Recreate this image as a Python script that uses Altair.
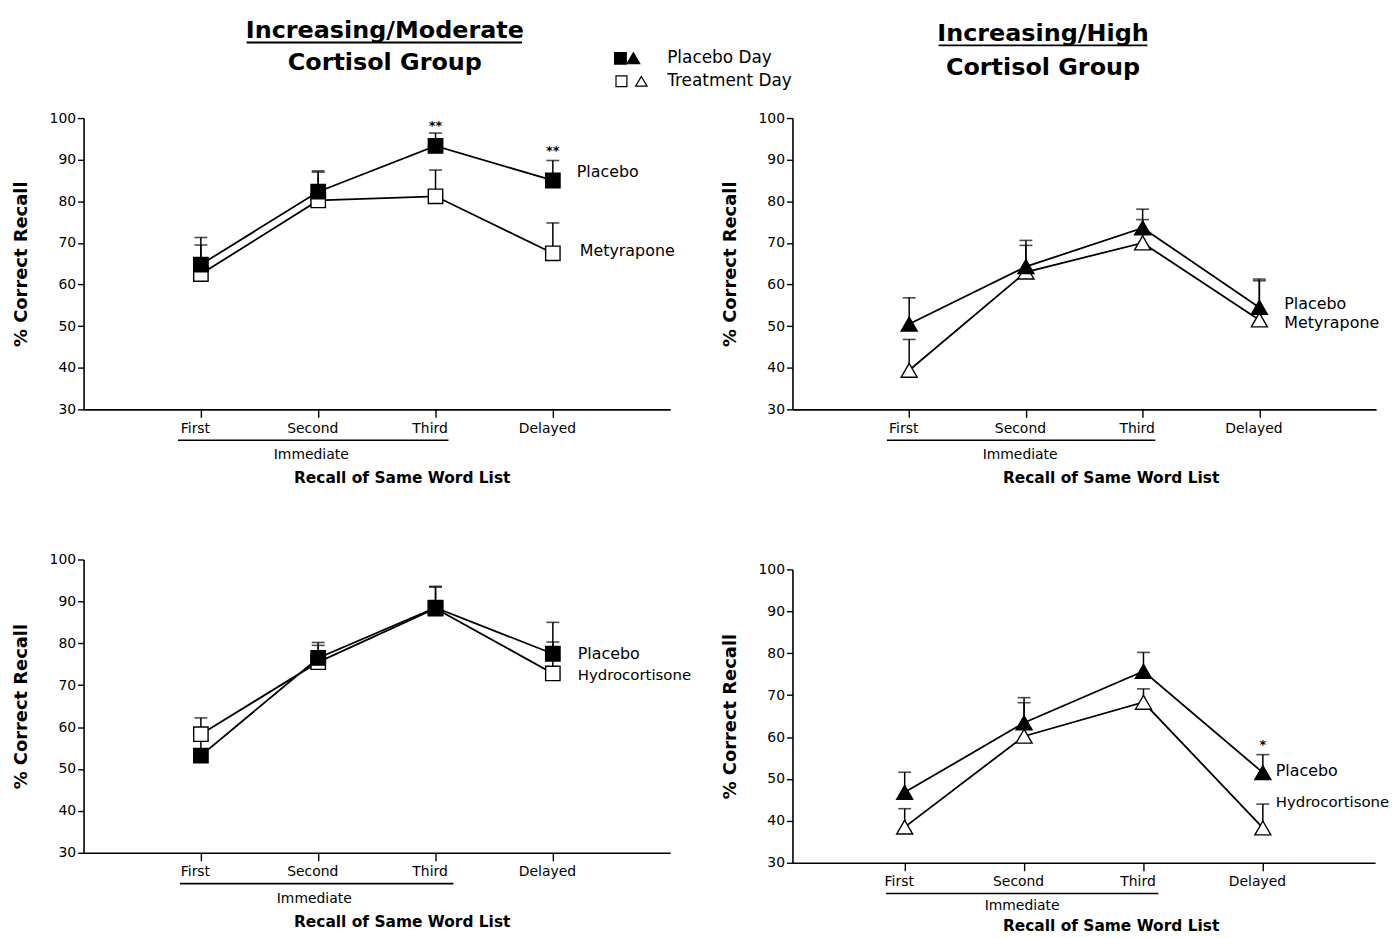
import altair as alt
import pandas as pd

FONT = "DejaVu Sans"

categories = ["First", "Second", "Third", "Delayed"]

# Increasing/Moderate cortisol group - metyrapone
mod_met_placebo = [64.8, 82.3, 93.3, 85.0]
mod_met_placebo_sem = [6.5, 5.0, 3.1, 4.8]
mod_met_treat = [62.5, 80.2, 81.2, 67.5]
mod_met_treat_sem = [7.0, 6.8, 6.3, 7.3]

# Increasing/High cortisol group - metyrapone
high_met_placebo = [50.5, 64.3, 73.6, 54.5]
high_met_placebo_sem = [6.3, 6.3, 4.5, 6.8]
high_met_treat = [39.4, 63.0, 70.0, 51.5]
high_met_treat_sem = [7.4, 6.4, 5.6, 9.4]

# Increasing/Moderate cortisol group - hydrocortisone
mod_hc_placebo = [53.2, 76.5, 88.5, 77.5]
mod_hc_placebo_sem = [4.0, 3.7, 5.1, 7.5]
mod_hc_treat = [58.3, 75.5, 88.3, 72.8]
mod_hc_treat_sem = [3.9, 4.0, 5.1, 7.5]

# Increasing/High cortisol group - hydrocortisone
high_hc_placebo = [46.8, 63.4, 75.7, 51.5]
high_hc_placebo_sem = [4.8, 6.0, 4.5, 4.3]
high_hc_treat = [38.5, 60.2, 68.3, 38.3]
high_hc_treat_sem = [4.4, 8.0, 3.2, 5.7]

y_ticks = [30, 40, 50, 60, 70, 80, 90, 100]


def one():
    return alt.Data(values=[{}])


def text_value(txt, x, y, size, bold=False, align="center", baseline="middle"):
    return alt.Chart(one()).mark_text(
        text=txt, font=FONT, fontSize=size, fontWeight="bold" if bold else "normal",
        align=align, baseline=baseline, color="black"
    ).encode(x=alt.value(x), y=alt.value(y))


def hrule_value(x1, x2, y, width=1.6):
    return alt.Chart(one()).mark_rule(color="black", strokeWidth=width).encode(
        x=alt.value(x1), x2=alt.value(x2), y=alt.value(y)
    )


def panel(placebo, placebo_sem, treat, treat_sem, shape, msize, width, height, pad,
          under, immediate_x, labels, stars, extra=(), top_offset=0, title_y=74,
          immediate_y=46):
    rows = []
    for grp, means, sems in (("Treatment", treat, treat_sem), ("Placebo", placebo, placebo_sem)):
        for c, m, s in zip(categories, means, sems):
            rows.append({"cat": c, "group": grp, "mean": m, "top": round(m + s, 2)})
    df = pd.DataFrame(rows)
    plot_h = height - top_offset
    bottom = height

    xaxis = alt.Axis(
        title="Recall of Same Word List", labelAngle=0, labelOffset=-6, tickSize=8,
        labelPadding=4, labelFont=FONT, labelFontSize=14, labelColor="black",
        titleFont=FONT, titleFontSize=15.5, titleFontWeight="bold", titleColor="black",
        titleX=320, titleY=title_y, titleBaseline="alphabetic", titleAlign="center",
        domainColor="black", domainWidth=1.6, tickColor="black", tickWidth=1.4, grid=False,
    )
    yaxis = alt.Axis(
        title="% Correct Recall", values=y_ticks, tickSize=6, labelPadding=2,
        labelFont=FONT, labelFontSize=14, labelColor="black",
        titleFont=FONT, titleFontSize=18, titleFontWeight="bold", titleColor="black",
        titleX=-53, titleY=top_offset + plot_h / 2, titleBaseline="bottom", titleAlign="center",
        domainColor="black", domainWidth=1.6, tickColor="black", tickWidth=1.4, grid=False,
    )
    xs = alt.Scale(type="point", domain=categories, padding=pad)
    if top_offset:
        ys = alt.Scale(domain=[30, 100], nice=False, zero=False, range=[height, top_offset])
    else:
        ys = alt.Scale(domain=[30, 100], nice=False, zero=False)
    xenc = alt.X("cat:N", scale=xs, axis=xaxis)
    yenc = alt.Y("mean:Q", scale=ys, axis=yaxis)

    base = alt.Chart(df)
    lines = base.mark_line(color="black", strokeWidth=1.8).encode(
        x=xenc, y=yenc, detail="group:N"
    )
    bars = base.mark_rule(color="black", strokeWidth=1.5).encode(x=xenc, y=yenc, y2="top:Q")
    caps = base.mark_tick(color="black", thickness=1.6, size=13).encode(
        x=xenc, y=alt.Y("top:Q", scale=ys, axis=yaxis)
    )
    pts = base.mark_point(
        shape=shape, filled=True, size=msize, stroke="black", strokeWidth=1.4, opacity=1
    ).encode(
        x=xenc, y=yenc,
        fill=alt.Fill("group:N", scale=alt.Scale(domain=["Placebo", "Treatment"],
                                                 range=["black", "white"]), legend=None),
    )
    layers = [lines, bars, caps, pts]
    for txt, yv, dx, fs in labels:
        layers.append(
            alt.Chart(one()).mark_text(
                text=txt, font=FONT, fontSize=fs, align="left", baseline="middle",
                dx=dx, color="black"
            ).encode(x=alt.datum("Delayed"), y=alt.datum(yv))
        )
    for txt, cat, yv in stars:
        layers.append(
            alt.Chart(one()).mark_text(
                text=txt, font=FONT, fontSize=13, fontWeight="bold", align="center",
                baseline="middle", color="black"
            ).encode(x=alt.datum(cat), y=alt.datum(yv))
        )
    layers.append(hrule_value(under[0], under[1], bottom + 31, 1.6))
    layers.append(text_value("Immediate", immediate_x, bottom + immediate_y, 14))
    layers.extend(extra)
    return alt.layer(*layers).properties(width=width, height=height)


legend_layers = [
    alt.Chart(one()).mark_point(shape="square", filled=True, size=120, fill="black",
                                stroke="black", opacity=1).encode(x=alt.value(540), y=alt.value(-60)),
    alt.Chart(one()).mark_point(shape="triangle-up", filled=True, size=130, fill="black",
                                stroke="black", opacity=1).encode(x=alt.value(553), y=alt.value(-60)),
    alt.Chart(one()).mark_point(shape="square", filled=True, size=120, fill="white",
                                stroke="black", strokeWidth=1.2, opacity=1).encode(x=alt.value(541), y=alt.value(-37)),
    alt.Chart(one()).mark_point(shape="triangle-up", filled=True, size=130, fill="white",
                                stroke="black", strokeWidth=1.2, opacity=1).encode(x=alt.value(561), y=alt.value(-37)),
    text_value("Placebo Day", 587, -60, 17, align="left"),
    text_value("Treatment Day", 587, -37, 17, align="left"),
]

tl_extra = [
    text_value("Increasing/Moderate", 303, -81, 24, bold=True, baseline="alphabetic"),
    hrule_value(164, 441, -76, 1.8),
    text_value("Cortisol Group", 303, -48, 24, bold=True, baseline="alphabetic"),
] + legend_layers

tr_extra = [
    text_value("Increasing/High", 252, -78, 24, bold=True, baseline="alphabetic"),
    hrule_value(147, 357, -73, 1.8),
    text_value("Cortisol Group", 252, -43, 24, bold=True, baseline="alphabetic"),
]

tl = panel(mod_met_placebo, mod_met_placebo_sem, mod_met_treat, mod_met_treat_sem,
           "square", 210, 590, 293, 1.04, (95, 367), 229,
           [("Placebo", 87.1, 24, 16), ("Metyrapone", 68.0, 27, 16)],
           [("**", "Third", 98.2), ("**", "Delayed", 92.0)], tl_extra)

tr = panel(high_met_placebo, high_met_placebo_sem, high_met_treat, high_met_treat_sem,
           "triangle-up", 260, 587, 293, 1.04, (95, 365), 229,
           [("Placebo", 55.3, 25, 16), ("Metyrapone", 50.8, 25, 16)],
           [], tr_extra)

bl = panel(mod_hc_placebo, mod_hc_placebo_sem, mod_hc_treat, mod_hc_treat_sem,
           "square", 210, 590, 295, 1.04, (97, 372), 232,
           [("Placebo", 77.5, 25, 16), ("Hydrocortisone", 72.5, 25, 15)],
           [])

br = panel(high_hc_placebo, high_hc_placebo_sem, high_hc_treat, high_hc_treat_sem,
           "triangle-up", 260, 586, 305, 0.94, (94, 368), 231,
           [("Placebo", 51.9, 13, 16), ("Hydrocortisone", 44.5, 13, 15)],
           [("*", "Delayed", 58.0)], top_offset=10, title_y=68, immediate_y=44)

chart = alt.concat(
    tl, tr, bl, br, columns=2, spacing={"row": 151, "column": 123}, bounds="flush"
).properties(
    padding={"left": 5, "top": 8, "right": 0, "bottom": 0}
).configure_view(stroke=None)

chart.save("out.html", embed_options={"renderer": "svg", "actions": False})
